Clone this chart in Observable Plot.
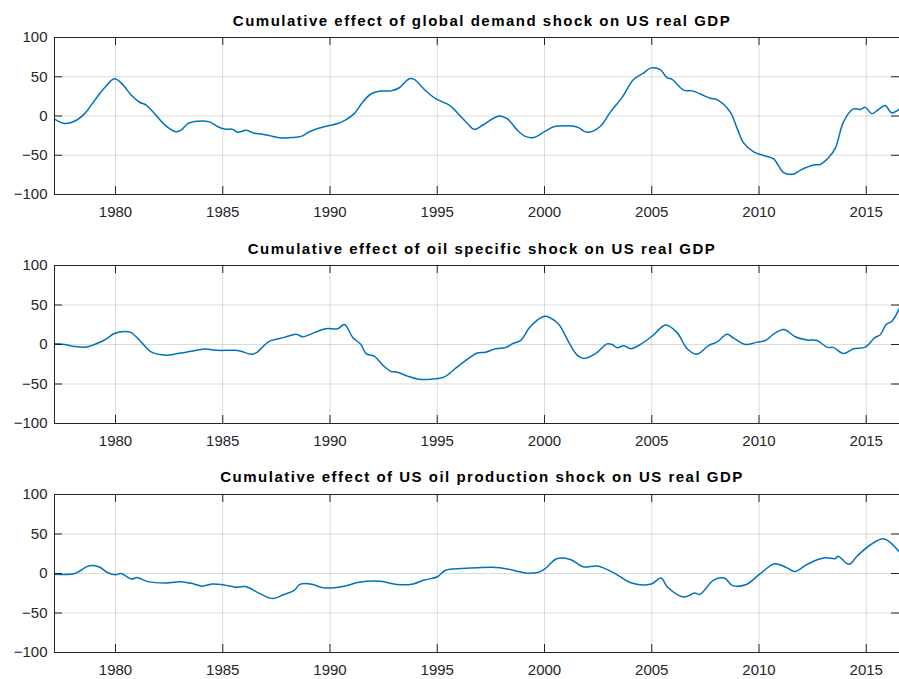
<!DOCTYPE html>
<html>
<head>
<meta charset="utf-8">
<script src="https://cdn.jsdelivr.net/npm/d3@7"></script>
<script src="https://cdn.jsdelivr.net/npm/@observablehq/plot@0.6"></script>
<style>
  html, body { margin: 0; padding: 0; background: #fff; }
  #charts svg { display: block; }
  #charts svg g.panel-title text { letter-spacing: 1.5px; }
</style>
</head>
<body>
<div id="charts"></div>
<script>
// Cumulative historical decomposition of US real GDP (percent), three structural shocks.
const titles = [
  "Cumulative effect of global demand shock on US real GDP",
  "Cumulative effect of oil specific shock on US real GDP",
  "Cumulative effect of US oil production shock on US real GDP"
];

const yearTicks = [1980, 1985, 1990, 1995, 2000, 2005, 2010, 2015];
const valueTicks = [-100, -50, 0, 50, 100];

// Global demand shock
const demandYears = [1977.16, 1977.62, 1978.09, 1978.56, 1979.02, 1979.49, 1979.95, 1980.34, 1980.73, 1981.12, 1981.43, 1981.82, 1982.2, 1982.52, 1982.83, 1983.06, 1983.37, 1983.84, 1984.38, 1984.77, 1985.08, 1985.47, 1985.7, 1986.09, 1986.48, 1986.8, 1987.17, 1987.72, 1988.18, 1988.65, 1989.04, 1989.43, 1989.9, 1990.36, 1990.67, 1991.13, 1991.52, 1991.91, 1992.38, 1992.84, 1993.23, 1993.7, 1993.93, 1994.39, 1994.94, 1995.56, 1996.02, 1996.41, 1996.72, 1997.17, 1997.87, 1998.26, 1998.73, 1999.11, 1999.5, 2000, 2000.43, 2000.98, 2001.52, 2001.99, 2002.61, 2003.07, 2003.62, 2004.16, 2004.63, 2004.94, 2005.4, 2005.71, 2005.95, 2006.49, 2006.88, 2007.27, 2007.73, 2008.04, 2008.66, 2008.98, 2009.29, 2009.75, 2010.22, 2010.68, 2011.15, 2011.61, 2011.93, 2012.55, 2012.86, 2013.25, 2013.56, 2013.94, 2014.4, 2014.72, 2014.95, 2015.26, 2015.57, 2015.88, 2016.19, 2016.55];
const demandValues = [-4, -9.6, -6.7, 3, 19.6, 36, 47.5, 40, 26.7, 17.5, 14, 3, -8.75, -16, -20, -18, -9.6, -6.7, -7.5, -13.75, -16.7, -17, -20.8, -18, -22, -23, -25, -28, -27.5, -26, -20, -16, -12.5, -9.6, -6, 3, 17.5, 28, 31.7, 32, 36, 47.5, 46.7, 34, 21.7, 14, 1.7, -9.6, -17, -10.8, 0, -3.3, -18, -26, -27.5, -20, -13.75, -12.5, -14, -20.8, -13, 5, 23.75, 46.7, 55, 61, 59, 48.75, 46.7, 33, 32, 28, 22.5, 20.8, 5, -15.8, -34.6, -45.8, -50.4, -54.6, -72, -74, -69, -62.5, -61.7, -53, -41, -7.5, 9, 8.3, 11, 3, 8.3, 13.3, 4, 9];

// Oil specific shock
const oilYears = [1977.16, 1977.62, 1978.09, 1978.63, 1979.02, 1979.49, 1979.95, 1980.42, 1980.73, 1981.2, 1981.66, 1982.36, 1982.9, 1983.52, 1984.15, 1984.77, 1985.54, 1985.85, 1986.32, 1986.55, 1987.17, 1987.87, 1988.42, 1988.73, 1989.27, 1989.81, 1990.36, 1990.67, 1991.06, 1991.44, 1991.68, 1992.06, 1992.53, 1992.84, 1993.15, 1993.62, 1994.16, 1994.7, 1995.33, 1995.95, 1996.55, 1996.86, 1997.25, 1997.72, 1998.18, 1998.49, 1998.88, 1999.35, 2000, 2000.28, 2000.67, 2001.13, 2001.52, 2001.83, 2002.38, 2002.92, 2003.15, 2003.39, 2003.7, 2004.01, 2004.47, 2005.09, 2005.64, 2006.18, 2006.65, 2007.11, 2007.66, 2008.04, 2008.51, 2008.82, 2009.36, 2009.91, 2010.3, 2010.68, 2011.15, 2011.69, 2012.24, 2012.7, 2013.17, 2013.48, 2013.94, 2014.41, 2014.95, 2015.42, 2015.65, 2015.93, 2016.2, 2016.55];
const oilValues = [1, 0, -2.5, -3.3, 0, 5.7, 14, 16.4, 15, 3, -9.4, -13.5, -11.5, -8.6, -5.7, -7.4, -7.4, -8.6, -12.3, -10.7, 4, 9, 13, 9.8, 15, 20, 20, 25.4, 9, 0, -11.5, -14.75, -27.9, -34, -35, -40, -44, -44, -41, -27.9, -16, -10.7, -9.8, -5.3, -4, 0.8, 5, 23, 35.7, 33.6, 25.4, 3, -13.5, -17.6, -11.5, 0.8, 0, -4, -1.6, -5.3, 0, 12.3, 24.6, 15, -5.3, -12.3, -1.2, 3, 13, 8, 0, 3, 5, 13, 19, 9.8, 5.7, 5, -3.3, -4, -11.5, -5.3, -3.3, 9, 12.3, 25.4, 29.5, 46];

// US oil production shock
const prodYears = [1977.16, 1978.1, 1978.74, 1979.24, 1979.62, 1980, 1980.25, 1980.76, 1981, 1981.51, 1982.4, 1983.03, 1983.66, 1984.04, 1984.54, 1985.05, 1985.68, 1986.06, 1986.69, 1987.32, 1987.82, 1988.33, 1988.58, 1989.08, 1989.71, 1990.6, 1991.35, 1992.36, 1993.12, 1993.88, 1994.38, 1995.01, 1995.39, 1996.15, 1996.9, 1997.92, 1998.67, 1999.18, 1999.68, 2000, 2000.57, 2001.2, 2001.83, 2002.46, 2003.21, 2004.1, 2004.98, 2005.43, 2005.74, 2006.5, 2007, 2007.25, 2007.88, 2008.39, 2008.77, 2009.4, 2010.03, 2010.74, 2011.29, 2011.67, 2012.3, 2013.06, 2013.56, 2013.69, 2014.19, 2014.57, 2015.2, 2015.83, 2016.55];
const prodValues = [-0.8, 0, 9.5, 8.3, 1.2, -1.7, 0, -7, -5, -10.3, -12, -10.3, -13.2, -16, -13.2, -14.5, -17.4, -16.5, -24.8, -31.8, -26.9, -21.5, -14, -13.2, -18.2, -16.5, -11.2, -9.9, -14, -13.2, -8.3, -4.1, 4.1, 6.2, 7.4, 7.4, 3.3, 0.4, 1.2, 5.4, 18.6, 17.8, 8.3, 9.5, 1.2, -12.4, -13.2, -5.8, -17.4, -29.8, -24.8, -26.4, -8.3, -5.8, -15.3, -14, -0.8, 12.4, 7.4, 2.5, 12.4, 19.8, 19, 21.9, 11.6, 21.9, 36.4, 43.8, 27.3];

const seriesYears = [demandYears, oilYears, prodYears];
const seriesValues = [demandValues, oilValues, prodValues];

// Per-panel SVG geometry
const panels = [
  {height: 230, top: 37, bottom: 36, titleDy: -16},
  {height: 225, top: 35, bottom: 32, titleDy: -16},
  {height: 224, top: 39, bottom: 27, titleDy: -17}
];

const font = "'Liberation Sans', Arial, Helvetica, sans-serif";
const axisColor = "#262626";
const lineColor = "#0072BD";
const width = 899, marginLeft = 54, marginRight = 0;
const tickLen = 8;

const root = document.getElementById("charts");

panels.forEach((p, i) => {
  const rows = seriesYears[i].map((t, k) => ({t, v: seriesValues[i][k]}));
  const innerH = p.height - p.top - p.bottom;
  const innerW = width - marginLeft - marginRight;
  const svg = Plot.plot({
    width, height: p.height,
    marginLeft, marginRight, marginTop: p.top, marginBottom: p.bottom,
    style: {fontFamily: font, fontSize: "15px", color: axisColor, background: "#fff"},
    x: {domain: [1977.156, 2016.55], ticks: yearTicks, tickFormat: d => String(d), label: null},
    y: {domain: [-100, 100], ticks: valueTicks, label: null},
    marks: [
      Plot.gridX(yearTicks, {stroke: "#000", strokeOpacity: 0.14, strokeWidth: 1}),
      Plot.gridY(valueTicks, {stroke: "#000", strokeOpacity: 0.14, strokeWidth: 1}),
      Plot.axisX({ticks: yearTicks, tickSize: 0, tickPadding: 12, tickFormat: d => String(d), fill: axisColor, label: null}),
      Plot.axisY({ticks: valueTicks, tickSize: 0, tickPadding: 7, fill: axisColor, label: null}),
      Plot.line(rows, {x: "t", y: "v", stroke: lineColor, strokeWidth: 1.5, curve: "catmull-rom"}),
      // inward tick marks on all four sides
      Plot.ruleX(yearTicks, {stroke: axisColor, strokeWidth: 1, insetTop: innerH - tickLen}),
      Plot.ruleX(yearTicks, {stroke: axisColor, strokeWidth: 1, insetBottom: innerH - tickLen}),
      Plot.ruleY(valueTicks, {stroke: axisColor, strokeWidth: 1, insetRight: innerW - tickLen}),
      Plot.ruleY(valueTicks, {stroke: axisColor, strokeWidth: 1, insetLeft: innerW - tickLen}),
      Plot.frame({stroke: axisColor, strokeWidth: 1}),
      Plot.text([titles[i]], {
        frameAnchor: "top", dx: 5, dy: p.titleDy, text: d => d, className: "panel-title",
        fontWeight: "bold", fontSize: 15, fill: "#000", lineAnchor: "middle"
      })
    ]
  });
  root.appendChild(svg);
});
</script>
</body>
</html>
